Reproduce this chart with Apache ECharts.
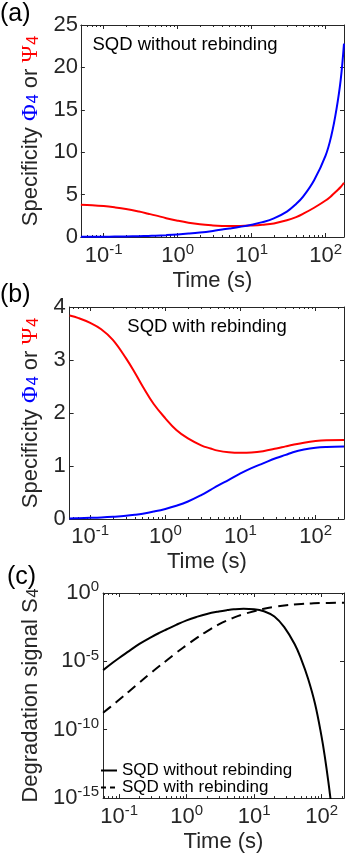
<!DOCTYPE html>
<html>
<head>
<meta charset="utf-8">
<script src="https://cdn.jsdelivr.net/npm/echarts@6/dist/echarts.min.js"></script>
<style>
  html, body { margin: 0; padding: 0; background: #fff; }
  #chart { width: 345px; height: 854px; }
</style>
</head>
<body>
<div id="chart"></div>
<script>
// ---- Panel (a): SQD without rebinding ----
const timeA = [0.0492, 0.07, 0.1, 0.14, 0.2, 0.3, 0.4, 0.5, 0.7, 1, 1.4, 2, 3, 4, 5, 7, 10, 14, 20, 30, 40, 50, 70, 100, 120, 140, 160, 177.5];
const phiA  = [0.015, 0.025, 0.035, 0.05, 0.07, 0.1, 0.13, 0.16, 0.22, 0.3, 0.4, 0.53, 0.72, 0.88, 1.0, 1.2, 1.45, 1.75, 2.2, 3.0, 3.9, 4.8, 6.7, 9.6, 12.0, 15.0, 18.5, 22.8];
const psiA  = [3.8, 3.75, 3.65, 3.5, 3.3, 3.0, 2.75, 2.55, 2.22, 1.92, 1.68, 1.5, 1.37, 1.31, 1.29, 1.3, 1.36, 1.45, 1.6, 1.97, 2.35, 2.75, 3.45, 4.3, 4.85, 5.4, 5.9, 6.4];

// ---- Panel (b): SQD with rebinding ----
const timeB = [0.0532, 0.07, 0.1, 0.14, 0.2, 0.3, 0.4, 0.5, 0.7, 1, 1.4, 2, 3, 4, 5, 7, 10, 14, 20, 30, 40, 50, 70, 100, 140, 239];
const phiB  = [0.01, 0.015, 0.022, 0.03, 0.042, 0.06, 0.08, 0.1, 0.14, 0.19, 0.25, 0.33, 0.45, 0.55, 0.63, 0.74, 0.86, 0.96, 1.05, 1.15, 1.21, 1.26, 1.31, 1.345, 1.36, 1.37];
const psiB  = [3.84, 3.79, 3.7, 3.58, 3.38, 3.03, 2.74, 2.5, 2.17, 1.9, 1.68, 1.52, 1.39, 1.33, 1.29, 1.26, 1.25, 1.255, 1.28, 1.33, 1.37, 1.4, 1.44, 1.47, 1.485, 1.49];

// ---- Panel (c): degradation signal S4, stored as decades (log10 S4) ----
const timeNoRebind  = [0.058, 0.08, 0.1, 0.14, 0.2, 0.3, 0.4, 0.5, 0.7, 1, 1.4, 2, 3, 4, 5, 7, 10, 14, 20, 28, 40, 50, 63, 80, 100, 112, 126, 140];
const logS4NoRebind = [-5.64, -5.1, -4.75, -4.25, -3.72, -3.22, -2.9, -2.67, -2.33, -2.0, -1.75, -1.53, -1.35, -1.25, -1.19, -1.15, -1.18, -1.33, -1.72, -2.5, -3.75, -4.85, -6.25, -8.1, -10.5, -12.0, -13.8, -15.6];
const timeRebind    = [0.058, 0.08, 0.1, 0.14, 0.2, 0.3, 0.4, 0.5, 0.7, 1, 1.4, 2, 3, 4, 5, 7, 10, 14, 20, 30, 50, 70, 100, 215];
const logS4Rebind   = [-8.76, -8.2, -7.8, -7.2, -6.55, -5.82, -5.32, -4.95, -4.38, -3.82, -3.3, -2.8, -2.3, -2.0, -1.8, -1.55, -1.33, -1.15, -1.02, -0.9, -0.8, -0.76, -0.73, -0.72];

// tick decades (powers of ten) for the time axes
const timeDecades = [-1, 0, 1, 2];
const seriesNames = ['SQD without rebinding', 'SQD with rebinding'];

const FONT = 'Liberation Sans';
const SERIF = 'Liberation Serif';
const AXIS_COLOR = '#262626';
const BLUE = '#0000ff';
const RED = '#ff0000';

const log10 = Math.log10;
const toXY = (ts, vs) => ts.map((t, i) => [log10(t), vs[i]]);

// "10" with a raised exponent
const powerLabel = v => '{b|10}{s|' + Math.round(v) + '}';
const powerRich = {
  b: { fontSize: 22, fontFamily: FONT, color: AXIS_COLOR, lineHeight: 27 },
  s: { fontSize: 15, fontFamily: FONT, color: AXIS_COLOR, lineHeight: 15, verticalAlign: 'top', padding: [0, 0, 12, 0] }
};

const nameRich = {
  t:   { fontSize: 22, fontFamily: FONT, color: AXIS_COLOR, lineHeight: 22 },
  phi: { fontSize: 23, fontFamily: SERIF, color: BLUE, lineHeight: 22 },
  psi: { fontSize: 23, fontFamily: SERIF, color: RED, lineHeight: 22 },
  sb:  { fontSize: 16, fontFamily: FONT, color: BLUE, lineHeight: 16, verticalAlign: 'bottom', padding: [18, 0, 0, 1] },
  sr:  { fontSize: 16, fontFamily: FONT, color: RED, lineHeight: 16, verticalAlign: 'bottom', padding: [18, 0, 0, 1] },
  sk:  { fontSize: 16, fontFamily: FONT, color: AXIS_COLOR, lineHeight: 16, verticalAlign: 'bottom', padding: [18, 0, 0, 1] }
};

const grids = [], xAxes = [], yAxes = [];
const axisLine = { show: true, onZero: false, lineStyle: { color: AXIS_COLOR, width: 1 } };
const noLine = { show: false, onZero: false };
const tickStyle = { color: AXIS_COLOR, width: 1 };

function minorTicks(lo, hi) {
  const out = [];
  for (let n = -3; n <= 3; n++) {
    for (let k = 2; k <= 9; k++) {
      const v = log10(k) + n;
      if (v > lo && v < hi) out.push(v);
    }
  }
  return out;
}

// builds one framed panel; returns the indices of its data axes
function addPanel(cfg) {
  const g = grids.length;
  grids.push(Object.assign({ show: false }, cfg.rect));
  const lo = log10(cfg.timeRange[0]), hi = log10(cfg.timeRange[1]);
  const majors = timeDecades.filter(v => v >= lo && v <= hi);
  const minors = minorTicks(lo, hi);
  const base = { gridIndex: g, type: 'value', min: lo, max: hi, splitLine: { show: false } };

  const xi = xAxes.length;
  xAxes.push(Object.assign({}, base, {
    position: 'bottom', axisLine,
    axisTick: { show: true, inside: true, length: 4, customValues: majors, lineStyle: tickStyle },
    axisLabel: { show: true, customValues: majors, formatter: powerLabel, rich: powerRich, margin: cfg.xLabelMargin },
    name: 'Time (s)', nameLocation: 'middle', nameGap: cfg.xNameGap,
    nameTextStyle: { fontSize: 22, fontFamily: FONT, color: AXIS_COLOR }
  }));
  xAxes.push(Object.assign({}, base, {
    position: 'bottom', axisLine: noLine,
    axisTick: { show: true, inside: true, length: 2, customValues: minors, lineStyle: tickStyle },
    axisLabel: { show: false }
  }));
  xAxes.push(Object.assign({}, base, {
    position: 'top', axisLine,
    axisTick: { show: true, inside: true, length: 4, customValues: majors, lineStyle: tickStyle },
    axisLabel: { show: false }
  }));
  xAxes.push(Object.assign({}, base, {
    position: 'top', axisLine: noLine,
    axisTick: { show: true, inside: true, length: 2, customValues: minors, lineStyle: tickStyle },
    axisLabel: { show: false }
  }));

  const yi = yAxes.length;
  const ybase = { gridIndex: g, type: 'value', min: cfg.y.min, max: cfg.y.max, interval: cfg.y.interval, splitLine: { show: false } };
  yAxes.push(Object.assign({}, ybase, {
    position: 'left', axisLine,
    axisTick: { show: true, inside: true, length: 4, lineStyle: tickStyle },
    axisLabel: Object.assign({ margin: cfg.yLabelMargin, fontSize: 22, fontFamily: FONT, color: AXIS_COLOR }, cfg.y.label || {}),
    name: cfg.yName, nameLocation: 'middle', nameGap: cfg.yNameGap,
    nameTextStyle: { rich: nameRich }
  }));
  yAxes.push(Object.assign({}, ybase, {
    position: 'right', axisLine,
    axisTick: { show: true, inside: true, length: 4, lineStyle: tickStyle },
    axisLabel: { show: false }
  }));
  return { xi, yi };
}

const specName = '{t|Specificity }{phi|Φ}{sb|4}{t| or }{psi|Ψ}{sr|4}';

const pa = addPanel({
  rect: { left: 63, top: 25, width: 281, height: 212 },
  timeRange: [0.0492, 177.5],
  y: { min: 0, max: 25, interval: 5 },
  xLabelMargin: 5, xNameGap: 26, yLabelMargin: 3, yNameGap: 30,
  yName: specName
});
const pb = addPanel({
  rect: { left: 55, top: 307, width: 289, height: 212 },
  timeRange: [0.0532, 239],
  y: { min: 0, max: 4, interval: 1 },
  xLabelMargin: 4, xNameGap: 32, yLabelMargin: 4, yNameGap: 22,
  yName: specName
});
const pc = addPanel({
  rect: { left: 85, top: 593, width: 259, height: 209 },
  timeRange: [0.0578, 215],
  y: { min: -15, max: 0, interval: 5, label: { formatter: powerLabel, rich: powerRich } },
  xLabelMargin: 5, xNameGap: 32, yLabelMargin: 4, yNameGap: 52,
  yName: '{t|Degradation signal S}{sk|4}'
});

const lineSeries = (name, panel, data, color, type) => ({
  name, type: 'line', xAxisIndex: panel.xi, yAxisIndex: panel.yi, data,
  symbol: 'none', showSymbol: false, smooth: 0.4, clip: true,
  lineStyle: { color, width: 2, type: type || 'solid' },
  itemStyle: { color },
  emphasis: { disabled: true }, silent: true
});

const option = {
  animation: false,
  backgroundColor: '#ffffff',
  textStyle: { fontFamily: FONT },
  grid: grids,
  xAxis: xAxes,
  yAxis: yAxes,
  legend: {
    data: [
      { name: seriesNames[0] },
      { name: seriesNames[1], lineStyle: { type: [5, 4] } }
    ],
    orient: 'vertical', left: 95, top: 757,
    itemWidth: 16, itemHeight: 16, itemGap: 0,
    itemStyle: { opacity: 0, color: 'rgba(0,0,0,0)', borderWidth: 0 },
    textStyle: { fontSize: 17, fontFamily: FONT, color: '#000' },
    selectedMode: false
  },
  graphic: [
    { type: 'text', left: 0, top: 2, style: { text: '(a)', font: '25px "Liberation Sans"', fill: '#000' } },
    { type: 'text', left: 0, top: 283, style: { text: '(b)', font: '25px "Liberation Sans"', fill: '#000' } },
    { type: 'text', left: 7, top: 565, style: { text: '(c)', font: '25px "Liberation Sans"', fill: '#000' } },
    { type: 'text', x: 185, y: 45, style: { text: 'SQD without rebinding', font: '18.5px "Liberation Sans"', fill: '#000', align: 'center', verticalAlign: 'middle', textAlign: 'center', textVerticalAlign: 'middle' } },
    { type: 'text', x: 207, y: 327, style: { text: 'SQD with rebinding', font: '18.5px "Liberation Sans"', fill: '#000', align: 'center', verticalAlign: 'middle', textAlign: 'center', textVerticalAlign: 'middle' } }
  ],
  series: [
    lineSeries('Ψ4 (a)', pa, toXY(timeA, psiA), RED),
    lineSeries('Φ4 (a)', pa, toXY(timeA, phiA), BLUE),
    lineSeries('Ψ4 (b)', pb, toXY(timeB, psiB), RED),
    lineSeries('Φ4 (b)', pb, toXY(timeB, phiB), BLUE),
    lineSeries(seriesNames[0], pc, toXY(timeNoRebind, logS4NoRebind), '#000'),
    lineSeries(seriesNames[1], pc, toXY(timeRebind, logS4Rebind), '#000', [10, 6])
  ]
};

const chart = echarts.init(document.getElementById('chart'), null, { renderer: 'canvas' });
chart.setOption(option);
</script>
</body>
</html>
